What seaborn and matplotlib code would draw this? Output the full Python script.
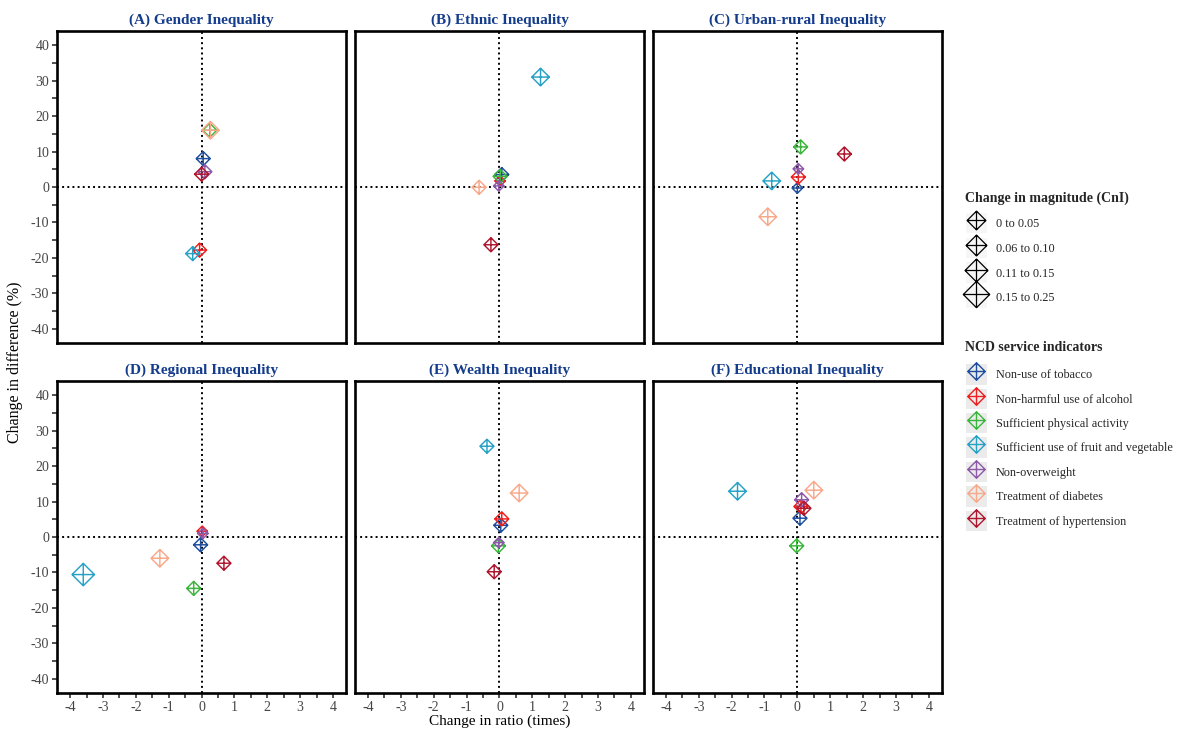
import pandas as pd
import seaborn as sns
import matplotlib.pyplot as plt
from matplotlib.path import Path
from matplotlib.lines import Line2D
from matplotlib.patches import Rectangle
from matplotlib.legend_handler import HandlerTuple
from matplotlib.ticker import MultipleLocator

# NCD service indicators and their colours
indicators = ['Non-use of tobacco', 'Non-harmful use of alcohol', 'Sufficient physical activity',
              'Sufficient use of fruit and vegetable', 'Non-overweight', 'Treatment of diabetes',
              'Treatment of hypertension']
colors = ['#1f4e9c', '#f21d1d', '#3bb53b', '#27a2c6', '#8c5aa8', '#f8a98a', '#b0172e']

size_levels = ['0 to 0.05', '0.06 to 0.10', '0.11 to 0.15', '0.15 to 0.25']

panels = ['(A) Gender Inequality', '(B) Ethnic Inequality', '(C) Urban-rural Inequality',
          '(D) Regional Inequality', '(E) Wealth Inequality', '(F) Educational Inequality']

# change in ratio (times), change in difference (%), magnitude class (0-3) per indicator
ratio_gender = [0.05, -0.06, 0.25, -0.27, 0.10, 0.27, 0.00]
diff_gender = [8.0, -17.8, 16.0, -18.8, 4.3, 16.0, 3.6]
cni_gender = [1, 1, 1, 1, 1, 2, 1]

ratio_ethnic = [0.07, 0.02, 0.02, 1.25, -0.02, -0.62, -0.26]
diff_ethnic = [3.5, 1.7, 3.0, 31.0, 0.3, -0.1, -16.3]
cni_ethnic = [1, 0, 1, 2, 0, 1, 1]

ratio_urban = [0.00, 0.03, 0.10, -0.78, 0.03, -0.90, 1.43]
diff_urban = [-0.3, 2.8, 11.3, 1.7, 5.1, -8.4, 9.3]
cni_urban = [0, 1, 1, 2, 0, 2, 1]

ratio_region = [-0.03, 0.02, -0.24, -3.60, 0.04, -1.27, 0.68]
diff_region = [-2.2, 1.6, -14.5, -10.6, 1.0, -6.0, -7.4]
cni_region = [1, 0, 1, 3, 0, 2, 1]

ratio_wealth = [0.04, 0.07, -0.03, -0.38, -0.02, 0.60, -0.16]
diff_wealth = [3.3, 5.1, -2.5, 25.6, -1.6, 12.4, -9.8]
cni_wealth = [1, 1, 1, 1, 0, 2, 1]

ratio_educ = [0.08, 0.11, -0.02, -1.82, 0.13, 0.50, 0.20]
diff_educ = [5.3, 8.6, -2.5, 12.9, 10.5, 13.2, 8.1]
cni_educ = [1, 1, 1, 2, 1, 2, 1]

ratios = [ratio_gender, ratio_ethnic, ratio_urban, ratio_region, ratio_wealth, ratio_educ]
diffs = [diff_gender, diff_ethnic, diff_urban, diff_region, diff_wealth, diff_educ]
cnis = [cni_gender, cni_ethnic, cni_urban, cni_region, cni_wealth, cni_educ]

rows = []
for p, r, d, c in zip(panels, ratios, diffs, cnis):
    for ind, rv, dv, cv in zip(indicators, r, d, c):
        rows.append({'panel': p, 'indicator': ind, 'ratio': rv, 'diff': dv, 'cni': size_levels[cv]})
df = pd.DataFrame(rows)

# diamond with a cross inside
diamond = Path([(0, 1), (1, 0), (0, -1), (-1, 0), (0, 1), (0, 1), (0, -1), (-1, 0), (1, 0)],
               [Path.MOVETO, Path.LINETO, Path.LINETO, Path.LINETO, Path.CLOSEPOLY,
                Path.MOVETO, Path.LINETO, Path.MOVETO, Path.LINETO])
sizes = {'0 to 0.05': 58, '0.06 to 0.10': 102, '0.11 to 0.15': 160, '0.15 to 0.25': 260}

sns.set_theme(style='white')
plt.rcParams['font.family'] = ['Liberation Serif', 'DejaVu Serif']
plt.rcParams['axes.unicode_minus'] = False

fig, axs = plt.subplots(2, 3, figsize=(11.77, 7.34), dpi=100)
fig.subplots_adjust(left=0.0484, right=0.8003, top=0.9578, bottom=0.0559, wspace=0.03, hspace=0.122)

for i, (ax, p) in enumerate(zip(axs.flat, panels)):
    ax.axvline(0, color='black', ls=':', lw=1.4, zorder=1)
    ax.axhline(0, color='black', ls=':', lw=1.4, zorder=1)
    sns.scatterplot(data=df[df['panel'] == p], x='ratio', y='diff', hue='indicator',
                    hue_order=indicators, palette=colors, size='cni', size_order=size_levels,
                    sizes=sizes, marker=diamond, linewidth=1.05, legend=False, ax=ax, zorder=3)
    for pc in ax.collections:
        pc.set_edgecolors(pc.get_facecolors())
        pc.set_facecolors('none')
    ax.set_xlim(-4.4, 4.4)
    ax.set_ylim(-44, 44)
    ax.xaxis.set_major_locator(MultipleLocator(1))
    ax.xaxis.set_minor_locator(MultipleLocator(0.5))
    ax.yaxis.set_major_locator(MultipleLocator(10))
    ax.yaxis.set_minor_locator(MultipleLocator(5))
    ax.set_xlabel('')
    ax.set_ylabel('')
    for s in ax.spines.values():
        s.set_color('black')
        s.set_linewidth(1.9)
    ax.tick_params(which='both', direction='out', length=3.5, width=1.2, color='#333333',
                   labelsize=10, labelcolor='#444444', pad=2)
    ax.tick_params(which='both', bottom=(i >= 3), labelbottom=(i >= 3),
                   left=(i % 3 == 0), labelleft=(i % 3 == 0))
    ax.set_title(p, color='#143c8c', fontweight='bold', fontsize=11, pad=5)

axs[1, 1].set_xlabel('Change in ratio (times)', fontsize=11, color='black', labelpad=1)
fig.text(0.013, 0.507, 'Change in difference (%)', rotation=90, va='center', ha='center',
         fontsize=11.5, color='black')

# legend titles
fig.text(0.8199, 0.7302, 'Change in magnitude (CnI)', ha='left', va='center',
         fontsize=10, fontweight='bold')
fig.text(0.8199, 0.5259, 'NCD service indicators', ha='left', va='center',
         fontsize=10, fontweight='bold')

size_handles = [(Rectangle((0, 0), 1, 1, facecolor='#f6f6f6', edgecolor='none'),
                 Line2D([], [], marker=diamond, ls='none', markersize=ms, markeredgecolor='black',
                        markerfacecolor='none', markeredgewidth=0.9))
                for ms in [13.5, 15, 16.5, 19]]
leg1 = fig.legend(size_handles, size_levels, loc='upper left',
                  bbox_to_anchor=(0.8112, 0.7248), frameon=False, fontsize=8.8,
                  labelspacing=0.35, handletextpad=0.7, handlelength=1.75, handleheight=2.2,
                  handler_map={tuple: HandlerTuple(ndivide=1)})

color_handles = [(Rectangle((0, 0), 1, 1, facecolor='#ebebeb', edgecolor='none'),
                  Line2D([], [], marker=diamond, ls='none', markersize=12.5, markeredgecolor=c,
                         markerfacecolor='none', markeredgewidth=1.0)) for c in colors]
leg2 = fig.legend(color_handles, indicators, loc='upper left',
                  bbox_to_anchor=(0.8112, 0.5188), frameon=False, fontsize=8.8,
                  labelspacing=0.32, handletextpad=0.7, handlelength=1.75, handleheight=2.2,
                  handler_map={tuple: HandlerTuple(ndivide=1)})

fig.savefig('out.png', dpi=100)
